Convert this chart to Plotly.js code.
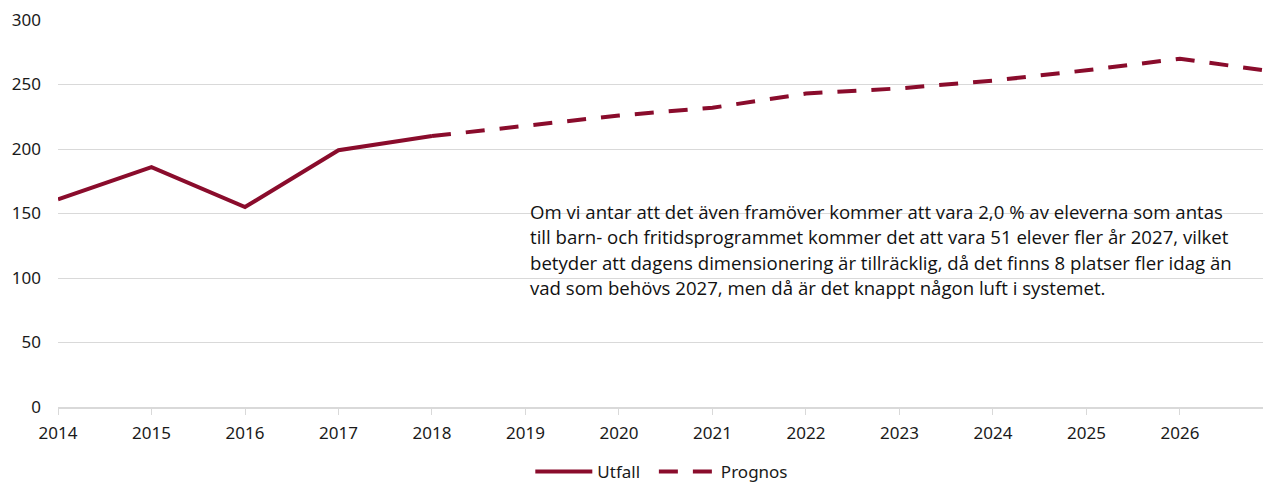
<!DOCTYPE html>
<html>
<head>
<meta charset="utf-8">
<script src="https://cdn.plot.ly/plotly-3.0.1.min.js"></script>
<style>
html,body{margin:0;padding:0;background:#fff;}
#chart{width:1263px;height:484px;}
</style>
</head>
<body>
<div id="chart"></div>
<script>
const utfallYears = [2014, 2015, 2016, 2017, 2018];
const utfallValues = [161, 186, 155, 199, 210];
const prognosYears = [2018, 2019, 2020, 2021, 2022, 2023, 2024, 2025, 2026, 2027];
const prognosValues = [210, 218, 226, 232, 243, 247, 253, 261, 270, 260];
const xTickYears = [2014, 2015, 2016, 2017, 2018, 2019, 2020, 2021, 2022, 2023, 2024, 2025, 2026];
const yTicks = [0, 50, 100, 150, 200, 250, 300];
const seriesNames = ["Utfall\u00a0\u00a0", "Prognos"];
const noteLines = [
  "Om vi antar att det även framöver kommer att vara 2,0 % av eleverna som antas",
  "till barn- och fritidsprogrammet kommer det att vara 51 elever fler år 2027, vilket",
  "betyder att dagens dimensionering är tillräcklig, då det finns 8 platser fler idag än",
  "vad som behövs 2027, men då är det knappt någon luft i systemet."
];

const lineColor = "#8a0c2c";
const tickFont = {family: "Noto Sans, Open Sans, sans-serif", size: 17, color: "#1a1a1a"};

const traces = [
  {x: utfallYears, y: utfallValues, name: seriesNames[0], type: "scatter", mode: "lines",
   line: {color: lineColor, width: 4}},
  {x: prognosYears, y: prognosValues, name: seriesNames[1], type: "scatter", mode: "lines",
   line: {color: lineColor, width: 4, dash: "19px,15px"}}
];

const annotations = noteLines.map((t, i) => ({
  text: t, xref: "paper", yref: "paper", x: 0.39, y: (407 - 211 - i * 25.6) / 387,
  xanchor: "left", yanchor: "middle", align: "left", showarrow: false,
  font: {family: "Open Sans, sans-serif", size: 18.6, color: "#111"}
}));

const layout = {
  width: 1263, height: 484,
  margin: {l: 58, r: 0, t: 20, b: 77},
  paper_bgcolor: "#fff", plot_bgcolor: "#fff",
  showlegend: true,
  legend: {orientation: "h", x: 0.524, xanchor: "center", xref: "container",
           y: 0.062, yanchor: "top", yref: "container",
           itemwidth: 57,
           font: {family: "Noto Sans, sans-serif", size: 17, color: "#1a1a1a"}},
  xaxis: {range: [2014, 2026.888], tickvals: xTickYears, ticktext: xTickYears.map(String),
          showgrid: false, zeroline: false, showline: true, linecolor: "#d9d9d9", linewidth: 2,
          ticks: "outside", ticklen: 6, tickcolor: "#d9d9d9", tickwidth: 1,
          ticklabelstandoff: 4, tickfont: tickFont},
  yaxis: {range: [0, 300], tickvals: yTicks, showgrid: true, gridcolor: "#d9d9d9", gridwidth: 1,
          zeroline: false, showline: false, ticks: "", ticklabelstandoff: 16,
          tickfont: tickFont},
  annotations: annotations
};

Plotly.newPlot("chart", traces, layout, {displayModeBar: false, staticPlot: true});
</script>
</body>
</html>
